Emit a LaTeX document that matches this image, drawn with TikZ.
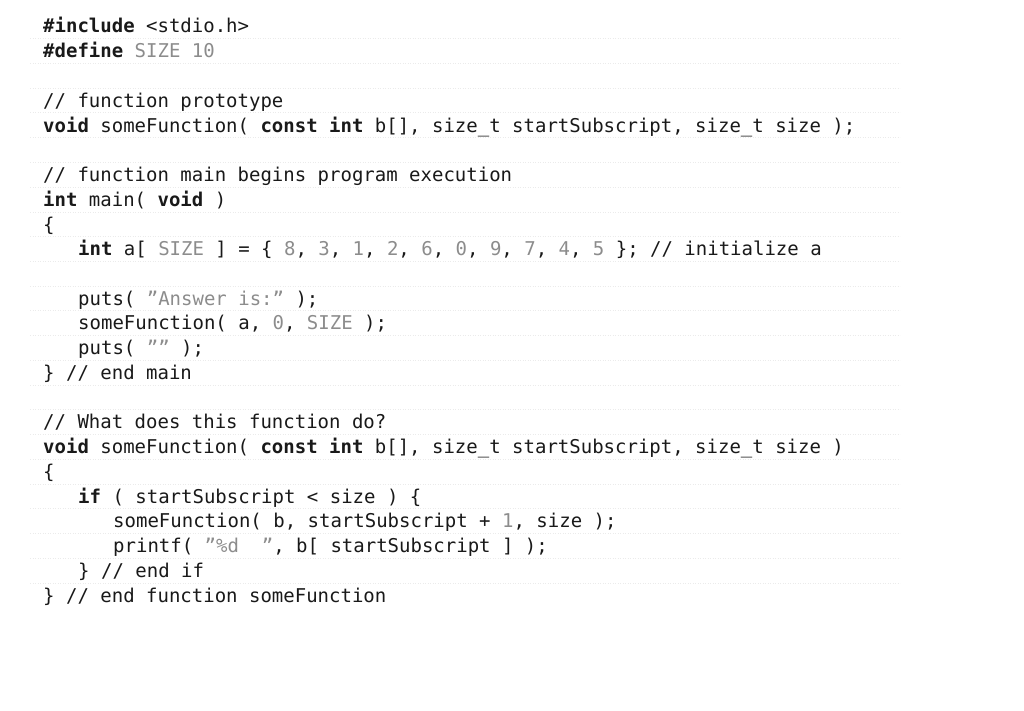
\documentclass[tikz,border=0pt]{standalone}
\usepackage{fontspec}
\setmainfont{DejaVu Sans Mono}
\definecolor{codegray}{RGB}{140,140,140}
\definecolor{codeink}{RGB}{25,25,25}
\newcommand{\gr}[1]{\textcolor{codegray}{#1}}
\newcommand{\kw}[1]{\textbf{#1}}
\tikzset{codeline/.style={anchor=base west,inner sep=0pt,text=codeink,font=\fontsize{19}{19}\selectfont},
 rule/.style={draw=black!8,line width=0.5pt,dotted}}
\begin{document}
\begin{tikzpicture}[x=1pt,y=-1pt]
\useasboundingbox (0,0) rectangle (1024,710);
\foreach \y in {38,63,88,112,137,162,187,212,236,261,286,310,335,360,385,409,434,459,484,508,533,558,583}
  \draw[rule] (30,\y) -- (900,\y);
\node[codeline] (l1) at (43,32) {\kw{\#include} <stdio.h>};
\node[codeline] (l2) at (43,57) {\kw{\#define} \gr{SIZE 10}};
\node[codeline] (l3) at (43,107) {// function prototype};
\node[codeline] (l4) at (43,132) {\kw{void} someFunction( \kw{const int} b[], size\_t startSubscript, size\_t size );};
\node[codeline] (l5) at (43,181) {// function main begins program execution};
\node[codeline] (l6) at (43,206) {\kw{int} main( \kw{void} )};
\node[codeline] (l7) at (43,231) {\{};
\node[codeline] (l8) at (78,255) {\kw{int} a[ \gr{SIZE} ] = \{ \gr{8}, \gr{3}, \gr{1}, \gr{2}, \gr{6}, \gr{0}, \gr{9}, \gr{7}, \gr{4}, \gr{5} \}; // initialize a};
\node[codeline] (l9) at (78,305) {puts( \gr{"Answer is:"} );};
\node[codeline] (l10) at (78,329) {someFunction( a, \gr{0}, \gr{SIZE} );};
\node[codeline] (l11) at (78,354) {puts( \gr{""} );};
\node[codeline] (l12) at (43,379) {\} // end main};
\node[codeline] (l13) at (43,428) {// What does this function do?};
\node[codeline] (l14) at (43,453) {\kw{void} someFunction( \kw{const int} b[], size\_t startSubscript, size\_t size )};
\node[codeline] (l15) at (43,478) {\{};
\node[codeline] (l16) at (78,503) {\kw{if} ( startSubscript < size ) \{};
\node[codeline] (l17) at (113,527) {someFunction( b, startSubscript + \gr{1}, size );};
\node[codeline] (l18) at (113,552) {printf( \gr{"\%d\ \ "}, b[ startSubscript ] );};
\node[codeline] (l19) at (78,577) {\} // end if};
\node[codeline] (l20) at (43,602) {\} // end function someFunction};
\end{tikzpicture}
\end{document}
